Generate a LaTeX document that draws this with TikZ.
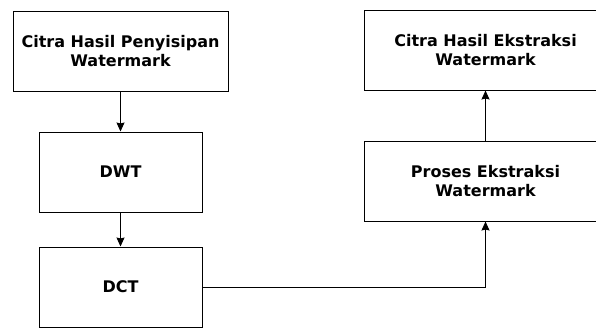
\documentclass[tikz,border=0pt]{standalone}
\usepackage{fontspec}
\setmainfont{DejaVu Sans}
\usetikzlibrary{positioning,arrows.meta}

\begin{document}
\begin{tikzpicture}[
    x=1pt, y=-1pt,
    box/.style={rectangle, draw, line width=1pt, minimum height=80pt, align=center, font=\fontsize{16}{19}\selectfont\bfseries},
    arrow/.style={-{Stealth[length=9pt,width=8pt,inset=1pt]}, line width=1pt}
]
    \clip (0,0) rectangle (596,327);
    \node[box, minimum width=215pt] (input) at (120.5,51) {Citra Hasil Penyisipan\\Watermark};
    \node[box, minimum width=163pt, below=40pt of input] (dwt) {DWT};
    \node[box, minimum width=163pt, below=34pt of dwt] (dct) {DCT};
    \node[box, minimum width=243pt] (proses) at (485.5,181) {Proses Ekstraksi\\Watermark};
    \node[box, minimum width=243pt, above=50pt of proses] (hasil) {Citra Hasil Ekstraksi\\Watermark};

    \draw[arrow] (input) -- (dwt);
    \draw[arrow] (dwt) -- (dct);
    \draw[arrow] (dct.east) -| (proses.south);
    \draw[arrow] (proses) -- (hasil);
\end{tikzpicture}
\end{document}
